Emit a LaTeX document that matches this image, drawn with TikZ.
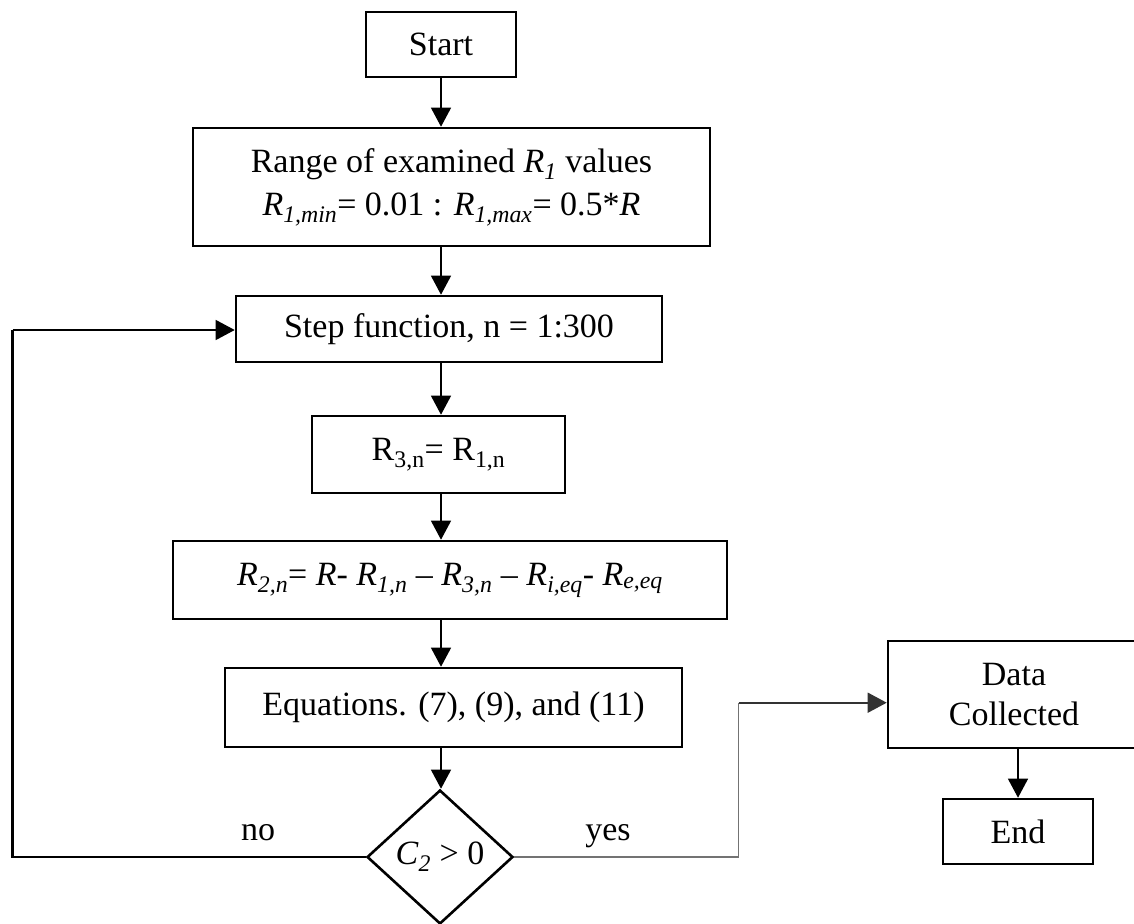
\documentclass[tikz,border=0pt]{standalone}
\usepackage{fontspec}
\setmainfont{Liberation Serif}
\usetikzlibrary{shapes.geometric,arrows.meta}
\newcommand{\sbi}[1]{\textsubscript{\textit{#1}}}
\newcommand{\sbu}[1]{\textsubscript{#1}}
\begin{document}
\begin{tikzpicture}[x=1pt,y=-1pt,
  box/.style={draw,line width=2.6pt,inner sep=0pt,align=center,font=\fontsize{34}{36}\selectfont},
  decbox/.style={draw,diamond,line width=2.6pt,inner sep=0pt,font=\fontsize{34}{40}\selectfont},
  lbl/.style={anchor=base,inner sep=0pt,font=\fontsize{34}{40}\selectfont},
  arr/.style={-{Triangle[length=19pt,width=20pt]},line width=1.3pt},
  loopline/.style={line width=2.5pt},
  yesline/.style={line width=1.5pt,draw=black!55}]
\useasboundingbox (0,0) rectangle (1134,923);
\node[box,minimum width=150pt,minimum height=65pt] (start) at (441,44.5) {Start};
\node[box,minimum width=517pt,minimum height=118pt] (range) at (451.5,187)
  {Range of examined \textit{R}\sbi{1} values\\[7pt] \textit{R}\sbi{1,min}= 0.01 : \textit{R}\sbi{1,max}= 0.5*\textit{R}};
\node[box,minimum width=426pt,minimum height=66pt] (step) at (449,329) {Step function, n = 1:300};
\node[box,minimum width=253pt,minimum height=77pt] (rthree) at (438.5,454.5) {R\sbu{3,n}= R\sbu{1,n}};
\node[box,minimum width=554pt,minimum height=78pt] (rtwo) at (450,580)
  {\textit{R}\sbi{2,n}= \textit{R}- \textit{R}\sbi{1,n} – \textit{R}\sbi{3,n} – \textit{R}\sbi{i,eq}- \textit{R}\sbi{e,eq}};
\node[box,minimum width=457pt,minimum height=79pt] (eq) at (453.5,707.5) {Equations. (7), (9), and (11)};
\node[decbox,minimum width=146pt,minimum height=134pt] (dec) at (440,857) {\textit{C}\sbi{2} > 0};
\node[box,minimum width=252pt,minimum height=107pt,font=\fontsize{34}{40}\selectfont] (data) at (1014,694.5) {Data\\Collected};
\node[box,minimum width=150pt,minimum height=65pt] (end) at (1018,831.5) {End};
\node[lbl] (no) at (258,840.5) {no};
\node[lbl] (yes) at (608,840) {yes};
\coordinate (loopbottom) at (12.7,857);
\coordinate (looptop) at (12.7,330);
\coordinate (yesbottom) at (738.5,857);
\coordinate (yestop) at (738.5,702.7);
\draw[arr] (start.south) -- (start.south |- range.north);
\draw[arr] (range.south -| start) -- (step.north -| start);
\draw[arr] (step.south -| start) -- (rthree.north -| start);
\draw[arr] (rthree.south -| start) -- (rtwo.north -| start);
\draw[arr] (rtwo.south -| start) -- (eq.north -| start);
\draw[arr] (eq.south -| start) -- (dec.north -| start);
\draw[loopline] (dec.west) -- (loopbottom) -- (looptop);
\draw[arr] (looptop) -- (looptop -| step.west);
\draw[yesline] (dec.east) -- (yesbottom) -- (yestop);
\draw[arr,line width=1.6pt,draw=black!80] (yestop) -- (yestop -| data.west);
\draw[arr] (end.north |- data.south) -- (end.north);
\end{tikzpicture}
\end{document}
